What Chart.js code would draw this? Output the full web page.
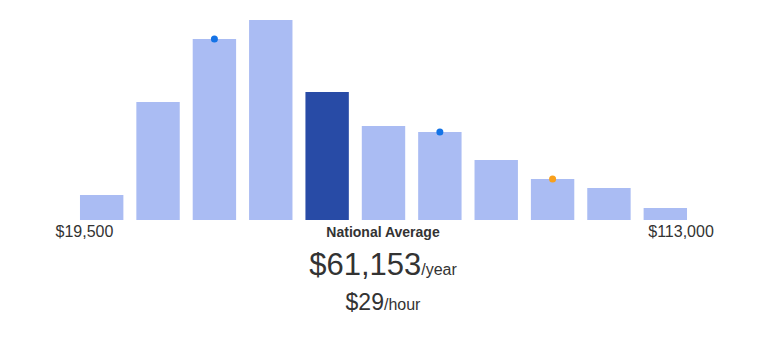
<!DOCTYPE html>
<html>
<head>
<meta charset="utf-8">
<script src="https://cdn.jsdelivr.net/npm/chart.js@4/dist/chart.umd.min.js"></script>
<style>
  body { margin: 0; background: #fff; font-family: "Liberation Sans", Arial, sans-serif; color: #333; }
  #wrap { position: relative; width: 766px; height: 357px; }
  #box { position: absolute; left: 0; top: 0; width: 766px; height: 221px; }
  .edge { position: absolute; top: 224px; font-size: 16px; line-height: 1; transform: translateX(-50%); white-space: nowrap; }
  .line { position: absolute; left: 0; width: 766px; text-align: center; line-height: 1; white-space: nowrap; }
  #avgLabel { top: 225px; font-size: 14px; font-weight: bold; }
  #yearly { top: 249px; font-size: 31px; }
  #hourly { top: 291px; font-size: 23px; }
  .unit { font-size: 16px; }
</style>
</head>
<body>
<div id="wrap">
  <div id="box"><canvas id="chart"></canvas></div>
  <div class="edge" id="minLabel"></div>
  <div class="edge" id="maxLabel"></div>
  <div class="line" id="avgLabel">National Average</div>
  <div class="line" id="yearly"></div>
  <div class="line" id="hourly"></div>
</div>
<script>
'use strict';

// salary distribution buckets, low to high
const buckets = ['1', '2', '3', '4', '5', '6', '7', '8', '9', '10', '11'];
const counts = [25, 118, 181, 200, 128, 94, 88, 60, 41, 32, 12];
const averageBucket = 4;
const markerBuckets = [2, 6, 8];
const markerColors = ['#1473e6', '#1473e6', '#f8a01c'];

const minSalary = '$19,500';
const maxSalary = '$113,000';
const avgYear = '$61,153';
const avgHour = '$29';

window.addEventListener('load', run);

function run() {
  const ctx = document.getElementById('chart').getContext('2d');

  const barColors = counts.map((v, i) => i === averageBucket ? '#284ba6' : '#aabcf3');
  const markers = counts.map((v, i) => markerBuckets.includes(i) ? v : null);
  const dotColors = counts.map((v, i) => {
    const k = markerBuckets.indexOf(i);
    return k >= 0 ? markerColors[k] : 'transparent';
  });

  const chart = new Chart(ctx, {
    type: 'bar',
    data: {
      labels: buckets,
      datasets: [
        {
          type: 'line',
          data: markers,
          showLine: false,
          pointRadius: 3.5,
          pointHoverRadius: 3.5,
          pointBorderWidth: 0,
          pointBackgroundColor: dotColors,
          pointBorderColor: dotColors,
          order: 0
        },
        {
          data: counts,
          backgroundColor: barColors,
          borderWidth: 0,
          categoryPercentage: 1,
          barPercentage: 0.77,
          order: 1
        }
      ]
    },
    options: {
      responsive: true,
      maintainAspectRatio: false,
      animation: false,
      layout: { autoPadding: false, padding: { left: 73.5, right: 72.5, top: 0, bottom: 1 } },
      plugins: { legend: { display: false }, tooltip: { enabled: false } },
      scales: {
        x: { display: false },
        y: { display: false, min: 0, max: 220 }
      }
    }
  });

  const bars = chart.getDatasetMeta(1).data;
  const first = bars[0];
  const last = bars[bars.length - 1];
  const minEl = document.getElementById('minLabel');
  const maxEl = document.getElementById('maxLabel');
  minEl.textContent = minSalary;
  maxEl.textContent = maxSalary;
  minEl.style.left = (first.x - first.width / 2 + 4.5) + 'px';
  maxEl.style.left = (last.x + last.width / 2 - 6) + 'px';

  document.getElementById('yearly').innerHTML = avgYear + '<span class="unit">/year</span>';
  document.getElementById('hourly').innerHTML = avgHour + '<span class="unit">/hour</span>';
}
</script>
</body>
</html>
